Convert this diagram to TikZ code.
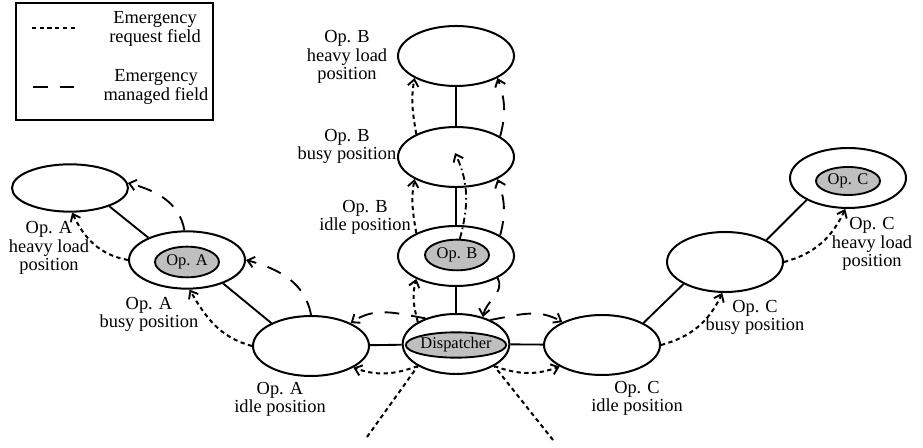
\documentclass[tikz,border=0pt]{standalone}
\usepackage{fontspec}
\setmainfont{Liberation Serif}
\usetikzlibrary{arrows.meta,shapes.geometric}
\begin{document}
\begin{tikzpicture}[x=0.75pt,y=0.75pt,
  state/.style={ellipse,draw,line width=1.5pt,inner sep=0pt,
    minimum width=87pt,minimum height=45pt},
  core/.style={ellipse,draw,line width=1.4pt,fill=black!25,inner sep=0pt,
    minimum width=48pt,minimum height=23pt,font=\fontsize{12.3pt}{13pt}\selectfont},
  lbl/.style={align=center,inner sep=0pt,font=\fontsize{13.8pt}{13.6pt}\selectfont},
  link/.style={line width=1.4pt},
  tip/.style={-{Straight Barb[length=5pt,width=8pt,line width=1.4pt]}},
  request/.style={line width=1.5pt,dash pattern=on 3.2pt off 2.6pt},
  managed/.style={line width=1.4pt,dash pattern=on 11pt off 9pt},
  handover/.style={line width=1.4pt,dash pattern=on 5pt off 2.5pt on 1.2pt off 2.5pt}
]
\useasboundingbox (0,0) rectangle (923,448);

% legend
\draw[line width=1.6pt] (16,328) rectangle (213,445);
\coordinate (lgA1) at (32,420);
\coordinate (lgA2) at (75,420);
\coordinate (lgB1) at (33,361);
\coordinate (lgB2) at (82,361);
\draw[request] (lgA1) -- (lgA2);
\draw[managed] (lgB1) -- (lgB2);
\node[lbl] (lgtxtA) at (155,419) {Emergency\\request field};
\node[lbl] (lgtxtB) at (156,361) {Emergency\\managed field};

% states of operator B
\node[state] (hB) at (456,392) {};
\node[state] (bB) at (456,291) {};
\node[state] (iB) at (456,192) {};
\node[core] (opB) at (457,193) {Op. B};

% dispatcher
\node[state,minimum width=80pt] (D) at (456,104) {};
\node[core,minimum width=64.5pt,minimum height=19pt] (dsp) at (456,103) {Dispatcher};

% states of operator A
\node[state] (iA) at (311,102) {};
\node[state,minimum height=43pt] (bA) at (187,188) {};
\node[core] (opA) at (187,186) {Op. A};
\node[state,minimum height=35.5pt] (hA) at (70,260) {};

% states of operator C
\node[state] (iC) at (602,103) {};
\node[state] (bC) at (725,186) {};
\node[state] (hC) at (848,270) {};
\node[core,minimum height=21pt] (opC) at (848,267) {Op. C};

% labels
\node[lbl] (lhB) at (347,391) {Op. B\\heavy load\\position};
\node[lbl] (lbB) at (347,302) {Op. B\\busy position};
\node[lbl] (liB) at (365,231) {Op. B\\idle position};
\node[lbl] (lhA) at (49,200) {Op. A\\heavy load\\position};
\node[lbl] (lbA) at (149,134) {Op. A\\busy position};
\node[lbl] (liA) at (280,49) {Op. A\\idle position};
\node[lbl] (liC) at (637,50) {Op. C\\idle position};
\node[lbl] (lbC) at (755,131) {Op. C\\busy position};
\node[lbl] (lhC) at (872,204) {Op. C\\heavy load\\position};

% solid links between states
\draw[link] (iA) -- (D);
\draw[link] (D) -- (iC);
\draw[link] (iB) -- (D);
\draw[link] (bB) -- (iB);
\draw[link] (hB) -- (bB);
\draw[link] (iA.150) -- (bA.-33);
\draw[link] (bA.150) -- (hA.-25);
\draw[link] (iC.28) -- (bC.208);
\draw[link] (bC.28) -- (hC.208);

% incoming emergency requests
\coordinate (inL) at (367,11);
\coordinate (inR) at (553,8);
\draw[request] (inL) -- (D.210);
\draw[request] (inR) -- (D.-30);

% emergency request field
\draw[request,tip] (D.210) to[out=200,in=-20] (iA.-27);
\draw[request,tip] (D.-30) to[out=-20,in=200] (iC.207);
\draw[request,tip] (iA.180) to[out=165,in=-60] (bA.-85);
\draw[request,tip] (bA.180) to[out=170,in=-65] (hA.-85);
\draw[request,tip] (iC.0) to[out=15,in=-115] (bC.-95);
\draw[request,tip] (bC.0) to[out=15,in=-115] (hC.-95);
\draw[request,tip] (D.150) to[out=105,in=-105] (iB.210);
\draw[request,tip] (iB.150) to[out=100,in=-100] (bB.208);
\draw[request,tip] (bB.150) to[out=100,in=-100] (hB.208);

% emergency managed field
\draw[managed,tip] (bA.95) to[out=100,in=-15] (hA.5);
\draw[managed,tip] (iA.90) to[out=100,in=-15] (bA.0);
\draw[managed,tip] (D.140) to[out=170,in=35] (iA.30);
\draw[managed,tip] (D.35) to[out=10,in=150] (iC.150);
\draw[managed,tip] (iB.-28) to[out=-60,in=80] (D.45);
\draw[managed,tip] (iB.25) to[out=75,in=-70] (bB.-28);
\draw[managed,tip] (bB.25) to[out=75,in=-70] (hB.-28);

% hand-over from idle to busy position of operator B
\coordinate (bBmark) at (455,295);
\draw[handover,tip] (opB.80) to[out=75,in=-65] (bBmark);
\end{tikzpicture}
\end{document}
